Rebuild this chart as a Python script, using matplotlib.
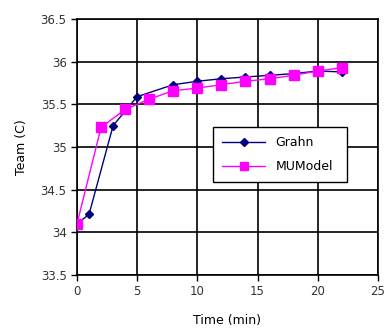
import matplotlib

matplotlib.use("Agg")
import matplotlib.pyplot as plt

plt.rcParams["font.family"] = ["DejaVu Sans"]

grahn_t = [0, 1, 3, 5, 8, 10, 12, 14, 16, 18, 20, 22]
grahn_temp = [34.1, 34.21, 35.25, 35.59, 35.73, 35.77, 35.8, 35.82, 35.84, 35.86, 35.89, 35.88]

mu_t = [0, 2, 4, 6, 8, 10, 12, 14, 16, 18, 20, 22]
mu_temp = [34.1, 35.23, 35.44, 35.56, 35.66, 35.69, 35.73, 35.77, 35.8, 35.84, 35.89, 35.93]

x_ticks = [0, 5, 10, 15, 20, 25]
y_ticks = [33.5, 34, 34.5, 35, 35.5, 36, 36.5]
y_labels = ["33.5", "34", "34.5", "35", "35.5", "36", "36.5"]

fig = plt.figure(figsize=(3.84, 3.32), dpi=100)
ax = fig.add_axes([0.2005, 0.1717, 0.7835, 0.7711])

ax.plot(grahn_t, grahn_temp, color="#000080", lw=1.0, marker="D", ms=4.5,
        label="Grahn", zorder=2)
ax.plot(mu_t, mu_temp, color="#ff00ff", lw=1.0, marker="s", ms=6.5,
        label="MUModel", zorder=3)

ax.set_xlim(0, 25)
ax.set_ylim(33.5, 36.5)
ax.set_xticks(x_ticks)
ax.set_yticks(y_ticks)
ax.set_yticklabels(y_labels)
ax.tick_params(direction="out", length=4, width=1, labelsize=8.5, colors="black",
               labelcolor="#333333")
ax.grid(True, color="black", lw=1.2)
ax.set_axisbelow(True)
for s in ax.spines.values():
    s.set_color("black")
    s.set_linewidth(1.2)

ax.set_xlabel("Time (min)", fontsize=9, labelpad=11)
ax.set_ylabel("Team (C)", fontsize=9, labelpad=9)

leg = ax.legend(loc="lower left", bbox_to_anchor=(0.452, 0.363, 0.445, 0.207),
                mode="expand", borderaxespad=0, fontsize=9, fancybox=False,
                framealpha=1, edgecolor="black", borderpad=0.7, handlelength=3.5,
                labelspacing=0.9, markerscale=0.85)
leg.get_frame().set_linewidth(1.0)

fig.savefig("out.png", dpi=100)
